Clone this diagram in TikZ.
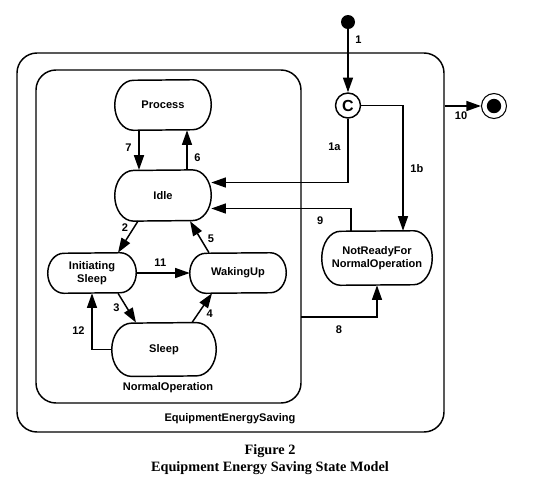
\documentclass[tikz,border=0pt]{standalone}
\usepackage{fontspec}
\setmainfont{Liberation Serif}
\setsansfont{Liberation Sans}
\usetikzlibrary{arrows.meta}

\tikzset{
  state/.style={rectangle,align=center,
    font=\sffamily\bfseries\fontsize{8.3}{9.6}\selectfont},
  region/.style={draw,rectangle,rounded corners=15pt,line width=1.1pt},
  tr/.style={line width=1.1pt,-{Triangle[length=11pt,width=7.5pt]}},
  num/.style={font=\sffamily\bfseries\fontsize{8.3}{9.6}\selectfont,inner sep=2pt},
  lbl/.style={font=\sffamily\bfseries\fontsize{8.3}{9.6}\selectfont}
}
% outline of a state: node, x radius, y radius of the ends
\newcommand{\stateoutline}[3]{%
  \draw[line width=1.1pt] ([xshift=-#2]#1.north east)
    arc[start angle=90,end angle=-90,x radius=#2,y radius=#3]
    -- ([xshift=#2]#1.south west)
    arc[start angle=270,end angle=90,x radius=#2,y radius=#3] -- cycle;}

\begin{document}
\begin{tikzpicture}[x=0.75pt,y=-0.75pt]
\useasboundingbox (0,0) rectangle (554,480);
% regions
\node[region,minimum width=320.25pt,minimum height=284.25pt] (ees) at (230.5,242.5) {};
\node[region,minimum width=198.75pt,minimum height=249.75pt] (normal) at (168.5,236.5) {};
\node[lbl] (eeslbl) at (230,419) {EquipmentEnergySaving};
\node[lbl] (normallbl) at (168,388) {NormalOperation};
% states
\node[state,minimum width=72pt,minimum height=37.5pt] (process) at (163,105) {Process};
\node[state,minimum width=72pt,minimum height=38pt] (idle) at (163,195.5) {Idle};
\node[state,minimum width=66pt,minimum height=30pt] (init) at (92,273) {Initiating\\Sleep};
\node[state,minimum width=72pt,minimum height=30pt] (wake) at (238,273) {WakingUp};
\node[state,minimum width=78pt,minimum height=40pt] (sleep) at (164,349.5) {Sleep};
\node[state,minimum width=82.5pt,minimum height=40.5pt] (ready) at (377,258) {NotReadyFor\\NormalOperation};
\foreach \s/\rx/\ry in {process/14pt/18.75pt,idle/14pt/19pt,init/12pt/15pt,
    wake/12pt/15pt,sleep/15pt/20pt,ready/14pt/20.25pt}
  \stateoutline{\s}{\rx}{\ry};
% pseudo states
\node[circle,fill=black,minimum size=10.5pt,inner sep=0pt] (start) at (348,22) {};
\node[circle,draw,line width=1.1pt,minimum size=18.75pt,inner sep=0pt,
  font=\sffamily\bfseries\fontsize{12}{12}\selectfont] (cond) at (348,105.5) {C};
\node[circle,draw,line width=0.8pt,minimum size=18.75pt,inner sep=0pt] (fin) at (494,106) {};
\fill (fin.center) circle (5.4pt);
\coordinate (out8) at (301,317);
% transitions
\draw[tr] (start) -- node[num,pos=0.17,right=3pt]{1} (cond);
\draw[tr] (cond.south) |- node[num,pos=0.22,left=3pt]{1a} ([yshift=9.75pt]idle.east);
\draw[tr] (cond.east) -| node[num,pos=0.75,right=3pt]{1b} ([xshift=19.5pt]ready.north);
\draw[tr] ([xshift=-19.5pt]ready.north) |- node[num,pos=0.61,below=4pt]{9} ([yshift=-9.75pt]idle.east);
\draw[tr] (out8) -| node[num,pos=0.25,below=4pt]{8} (ready.south);
\draw[tr] (ees.east |- fin) -- node[num,pos=0.45,below=2pt]{10} (fin.west);
\draw[tr] ([xshift=-18pt]process.south) -- node[num,pos=0.45,left=3pt]{7} ([xshift=-18pt]idle.north);
\draw[tr] ([xshift=18pt]idle.north) -- node[num,pos=0.3,right=3pt]{6} ([xshift=18pt]process.south);
\draw[tr] ([xshift=-18.75pt]idle.south) -- node[num,pos=0.2,left=2pt]{2} ([xshift=19.5pt]init.north);
\draw[tr] ([xshift=-21.75pt]wake.north) -- node[num,pos=0.45,right=3pt]{5} ([xshift=20.25pt]idle.south);
\draw[tr] (init.east) -- node[num,pos=0.45,above=2pt]{11} (wake.west);
\draw[tr] ([xshift=19.5pt]init.south) -- node[num,pos=0.5,left=3pt]{3} ([xshift=-21pt]sleep.north);
\draw[tr] ([xshift=21pt]sleep.north) -- node[num,pos=0.3,right=4pt]{4} ([xshift=-19.5pt]wake.south);
\draw[tr] (sleep.west) -| node[num,pos=0.67,left=3pt]{12} (init.south);
% caption
\node[font=\rmfamily\bfseries\fontsize{10.7}{13}\selectfont,align=center] (caption) at (270,459.5)
  {Figure 2\\Equipment Energy Saving State Model};
\end{tikzpicture}
\end{document}
